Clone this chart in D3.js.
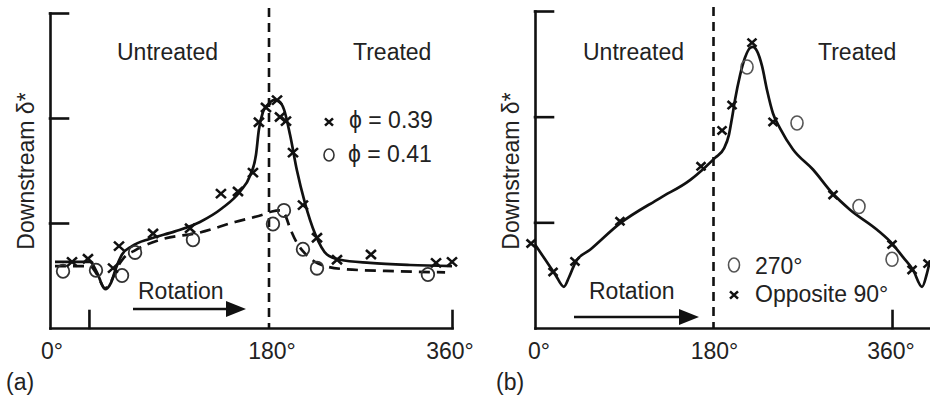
<!DOCTYPE html>
<html><head><meta charset="utf-8">
<script src="https://cdn.jsdelivr.net/npm/d3@7"></script>
<style>
body{margin:0;background:#fff}
svg{display:block}
text{font-family:"Liberation Sans",Arial,Helvetica,sans-serif;fill:#222;font-size:23px}
</style>
</head><body><svg id="c" width="930" height="400"></svg>
<script>
// ---------- DATA ----------
const xTickValues = [0, 180, 360];
const xTickLabels = ["0°", "180°", "360°"];
const yTickValues = [1, 2, 3];
const aExtraXTicks = [32, 360];
const bExtraXTicks = [360];
const boundaryDeg = 180;

// Panel (a): phi = 0.39 (crosses)
const aCrossDeg = [18.1, 31.2, 51.8, 56.7, 84.7, 115.1, 140.5, 154.5, 166.8, 171.7, 177.5, 187.9, 190.8, 196.7, 203.6, 213.4, 227.2, 246.9, 280.3, 344.3, 360];
const aCrossVal = [0.63, 0.66, 0.57, 0.78, 0.90, 0.95, 1.28, 1.30, 1.48, 1.96, 2.10, 2.17, 2.01, 1.97, 1.67, 1.17, 0.86, 0.65, 0.70, 0.62, 0.63];
// Panel (a): phi = 0.41 (circles)
const aCircDeg = [10.7, 37.8, 59.2, 69.9, 117.5, 183.9, 194.7, 213.4, 227.2, 336.3];
const aCircVal = [0.54, 0.55, 0.50, 0.72, 0.84, 0.99, 1.12, 0.75, 0.57, 0.51];
// Panel (a): fitted curves
const aSolidDeg = [4.1, 32.9, 38.6, 45.2, 50.1, 54.2, 59.2, 67.4, 82.2, 102.7, 123.3, 141.4, 156.2, 164.4, 169.3, 171.7, 175.1, 179.2, 184.9, 189.8, 194.8, 200.7, 207.5, 215.4, 225.2, 237.0, 249.8, 279.3, 318.7, 360];
const aSolidVal = [0.63, 0.63, 0.53, 0.37, 0.43, 0.57, 0.70, 0.78, 0.85, 0.92, 1.01, 1.14, 1.30, 1.45, 1.65, 1.89, 2.06, 2.13, 2.17, 2.16, 2.08, 1.84, 1.50, 1.19, 0.90, 0.70, 0.65, 0.62, 0.60, 0.59];
const aDashDeg = [4.1, 32.9, 38.6, 45.2, 50.1, 55.1, 60.8, 69.9, 90.4, 123.3, 152.1, 175.1, 182.9, 190.8, 195.7, 200.7, 207.5, 215.4, 225.2, 235.1, 254.8, 308.9, 353.2];
const aDashVal = [0.59, 0.59, 0.51, 0.38, 0.44, 0.57, 0.67, 0.74, 0.84, 0.91, 1.01, 1.08, 1.11, 1.12, 1.08, 0.95, 0.81, 0.71, 0.63, 0.59, 0.56, 0.54, 0.53];

// Panel (b): opposite 90° (crosses)
const bCrossDeg = [-4.0, 18.2, 40.3, 85.7, 167.4, 188.6, 198.7, 218.8, 240.0, 300.5, 360.0, 380.2, 396.3];
const bCrossVal = [0.80, 0.53, 0.63, 1.01, 1.53, 1.87, 2.11, 2.70, 1.95, 1.26, 0.79, 0.55, 0.61];
// Panel (b): 270° (circles)
const bCircDeg = [213.8, 264.2, 326.7, 360.0];
const bCircVal = [2.47, 1.94, 1.15, 0.65];
// Panel (b): fitted curve
const bFitDeg = [0, 10.1, 20.2, 29.2, 34.3, 41.3, 55.5, 85.7, 126.1, 156.3, 171.4, 181.5, 190.6, 195.6, 198.7, 201.7, 206.7, 211.8, 216.8, 219.8, 223.9, 228.9, 234.0, 240.0, 247.1, 260.2, 280.3, 299.5, 317.6, 344.9, 361.0, 371.1, 381.2, 390.3, 395.3, 398.3];
const bFitVal = [0.79, 0.65, 0.51, 0.39, 0.48, 0.63, 0.74, 0.99, 1.23, 1.40, 1.52, 1.61, 1.70, 1.83, 1.99, 2.16, 2.39, 2.56, 2.65, 2.66, 2.62, 2.48, 2.25, 2.03, 1.89, 1.69, 1.50, 1.28, 1.12, 0.93, 0.79, 0.67, 0.55, 0.39, 0.52, 0.64];

// ---------- DRAW ----------
const svg = d3.select("#c");
const INK = "#111";
const zip = (xs, ys) => xs.map((x, i) => [x, ys[i]]);

function panel(opt) {
  const g = svg.append("g");
  const x = opt.x, y = opt.y;
  const x0 = x.range()[0];
  const yb = y.range()[0];

  g.append("g").attr("transform", `translate(${x0},0)`)
    .call(d3.axisRight(y).tickValues(yTickValues).tickSize(18).tickSizeOuter(0).tickFormat(""))
    .call(s => s.selectAll("path,line").attr("stroke", INK).attr("stroke-width", 2.6).attr("stroke-linecap", "square"));
  g.append("g").attr("transform", `translate(0,${yb})`)
    .call(d3.axisTop(x).tickValues(opt.extraTicks).tickSize(17).tickSizeOuter(0).tickFormat(""))
    .call(s => s.selectAll("path,line").attr("stroke", INK).attr("stroke-width", 2.6).attr("stroke-linecap", "square"));
  g.selectAll("text.tl").data(xTickValues).join("text").attr("class", "tl")
    .attr("x", (d, i) => x(d) + opt.labelShift[i]).attr("y", 359).attr("text-anchor", "middle")
    .text((d, i) => xTickLabels[i]);
  g.append("text").attr("transform", `translate(${opt.ylabX},171) rotate(-90)`)
    .attr("text-anchor", "middle").text("Downstream δ*");
  g.append("line").attr("x1", x(boundaryDeg)).attr("x2", x(boundaryDeg))
    .attr("y1", opt.dashTop).attr("y2", yb)
    .attr("stroke", INK).attr("stroke-width", 2.6).attr("stroke-dasharray", "9,6");
  g.append("text").attr("x", opt.untreatedX).attr("y", 60).text("Untreated");
  g.append("text").attr("x", opt.treatedX).attr("y", 60).text("Treated");
  g.append("text").attr("x", opt.rotX).attr("y", 299).text("Rotation");
  const ay = opt.arrowY, ax0 = opt.arrowX0, ax1 = opt.arrowX1;
  g.append("line").attr("x1", ax0).attr("x2", ax1 - 10).attr("y1", ay).attr("y2", ay)
    .attr("stroke", INK).attr("stroke-width", 2.6);
  g.append("path").attr("d", `M${ax1},${ay}L${ax1 - 20},${ay - 8}L${ax1 - 20},${ay + 8}Z`).attr("fill", INK);
  g.append("text").attr("x", opt.tagX).attr("y", 390).text(opt.tag);
  return g;
}

function drawLine(g, x, y, xs, ys, dash) {
  g.append("path").datum(zip(xs, ys))
    .attr("d", d3.line().x(d => x(d[0])).y(d => y(d[1])).curve(d3.curveMonotoneX))
    .attr("fill", "none").attr("stroke", INK).attr("stroke-width", 2.7)
    .attr("stroke-linejoin", "round")
    .attr("stroke-dasharray", dash || null);
}
function drawCrosses(g, x, y, xs, ys, s) {
  g.selectAll(null).data(zip(xs, ys)).join("path")
    .attr("transform", d => `translate(${x(d[0])},${y(d[1])})`)
    .attr("d", `M${-s},${-s * 0.9}L${s},${s * 0.9}M${-s},${s * 0.9}L${s},${-s * 0.9}`)
    .attr("stroke", INK).attr("stroke-width", 2.6).attr("fill", "none");
}
function drawCircles(g, x, y, xs, ys, rx, ry, col, sw) {
  g.selectAll(null).data(zip(xs, ys)).join("ellipse")
    .attr("cx", d => x(d[0])).attr("cy", d => y(d[1]))
    .attr("rx", rx).attr("ry", ry)
    .attr("fill", "none").attr("stroke", col).attr("stroke-width", sw);
}

// Panel (a)
const xA = d3.scaleLinear().domain([0, 180, 360]).range([50, 269, 452]);
const yA = d3.scaleLinear().domain([0, 3]).range([328, 13]);
const gA = panel({x: xA, y: yA, extraTicks: aExtraXTicks, labelShift: [2, 3, -2], ylabX: 34, dashTop: 8,
  untreatedX: 117, treatedX: 353, rotX: 138, arrowY: 309, arrowX0: 133, arrowX1: 246, tagX: 6, tag: "(a)"});
drawLine(gA, xA, yA, aDashDeg, aDashVal, "11,7");
drawLine(gA, xA, yA, aSolidDeg, aSolidVal);
drawCircles(gA, xA, yA, aCircDeg, aCircVal, 6.3, 6.6, "#333", 1.8);
drawCrosses(gA, xA, yA, aCrossDeg, aCrossVal, 5);
// legend (a)
drawCrosses(gA, d3.scaleLinear().domain([0,1]).range([329,330]), d3.scaleLinear().domain([0,1]).range([122,123]), [0], [0], 4);
gA.append("ellipse").attr("cx", 329).attr("cy", 155).attr("rx", 5).attr("ry", 6).attr("fill", "none").attr("stroke", "#333").attr("stroke-width", 1.6);
gA.append("text").attr("x", 349).attr("y", 128).text("ϕ = 0.39");
gA.append("text").attr("x", 348).attr("y", 162).text("ϕ = 0.41");

// Panel (b)
const xB = d3.scaleLinear().domain([0, 398.3]).range([535, 930]);
const yB = d3.scaleLinear().domain([0, 3]).range([328, 11]);
const gB = panel({x: xB, y: yB, extraTicks: bExtraXTicks, labelShift: [4, 1, -1], ylabX: 519, dashTop: 7,
  untreatedX: 583, treatedX: 818, rotX: 589, arrowY: 317, arrowX0: 574, arrowX1: 699, tagX: 496, tag: "(b)"});
drawLine(gB, xB, yB, bFitDeg, bFitVal);
drawCircles(gB, xB, yB, bCircDeg, bCircVal, 6, 7, "#555", 1.6);
drawCrosses(gB, xB, yB, bCrossDeg, bCrossVal, 4.5);
// legend (b)
gB.append("ellipse").attr("cx", 734).attr("cy", 265).attr("rx", 5.5).attr("ry", 7).attr("fill", "none").attr("stroke", "#555").attr("stroke-width", 1.6);
drawCrosses(gB, d3.scaleLinear().domain([0,1]).range([734,735]), d3.scaleLinear().domain([0,1]).range([295,296]), [0], [0], 4);
gB.append("text").attr("x", 755).attr("y", 274).text("270°");
gB.append("text").attr("x", 755).attr("y", 302).text("Opposite 90°");
</script>
</body></html>
